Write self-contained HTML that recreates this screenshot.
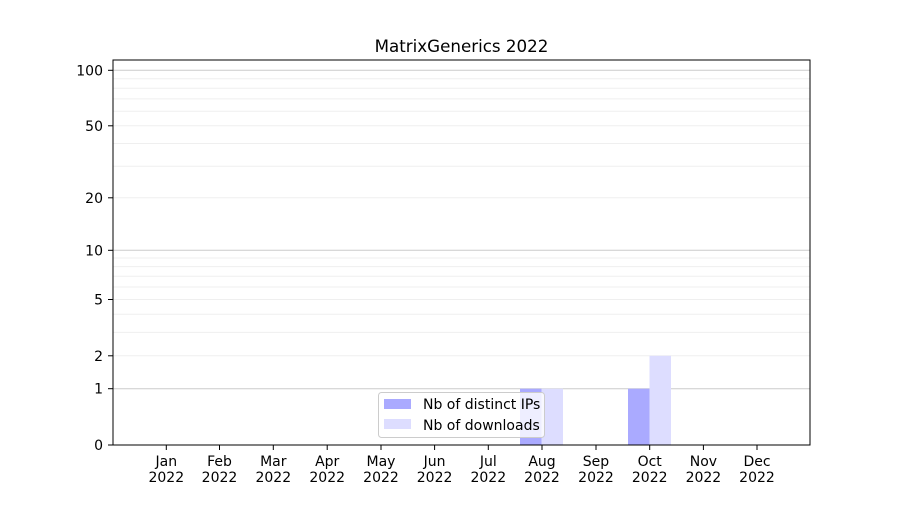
<!DOCTYPE html>
<html><head><meta charset="utf-8"><style>
body{margin:0;background:#fff}
text{font-family:"DejaVu Sans","Liberation Sans",sans-serif;font-size:14px;fill:#000}
</style></head><body>
<svg width="900" height="500" xmlns="http://www.w3.org/2000/svg">
<rect width="900" height="500" fill="#fff"/>
<g stroke="#efefef" stroke-width="1">
<line x1="113" x2="810" y1="355.8" y2="355.8"/>
<line x1="113" x2="810" y1="332.4" y2="332.4"/>
<line x1="113" x2="810" y1="314.3" y2="314.3"/>
<line x1="113" x2="810" y1="299.5" y2="299.5"/>
<line x1="113" x2="810" y1="287" y2="287"/>
<line x1="113" x2="810" y1="276.2" y2="276.2"/>
<line x1="113" x2="810" y1="266.6" y2="266.6"/>
<line x1="113" x2="810" y1="258" y2="258"/>
<line x1="113" x2="810" y1="197.8" y2="197.8"/>
<line x1="113" x2="810" y1="166.2" y2="166.2"/>
<line x1="113" x2="810" y1="143.5" y2="143.5"/>
<line x1="113" x2="810" y1="125.8" y2="125.8"/>
<line x1="113" x2="810" y1="111.2" y2="111.2"/>
<line x1="113" x2="810" y1="98.9" y2="98.9"/>
<line x1="113" x2="810" y1="88.2" y2="88.2"/>
<line x1="113" x2="810" y1="78.8" y2="78.8"/>
</g>
<g stroke="#cccccc" stroke-width="1">
<line x1="113" x2="810" y1="388.7" y2="388.7"/>
<line x1="113" x2="810" y1="250.3" y2="250.3"/>
<line x1="113" x2="810" y1="70.3" y2="70.3"/>
</g>
<rect x="520" y="388.7" width="21.5" height="56.3" fill="#aaaaff"/>
<rect x="541.5" y="388.7" width="21.5" height="56.3" fill="#ddddff"/>
<rect x="628" y="388.7" width="21.5" height="56.3" fill="#aaaaff"/>
<rect x="649.5" y="355.8" width="21.5" height="89.2" fill="#ddddff"/>
<rect x="113" y="60" width="697" height="385" fill="none" stroke="#000" stroke-width="1"/>
<g stroke="#000">
<line x1="108" x2="113" y1="445" y2="445"/>
<line x1="108" x2="113" y1="388.7" y2="388.7"/>
<line x1="108" x2="113" y1="355.8" y2="355.8"/>
<line x1="108" x2="113" y1="299.5" y2="299.5"/>
<line x1="108" x2="113" y1="250.3" y2="250.3"/>
<line x1="108" x2="113" y1="197.8" y2="197.8"/>
<line x1="108" x2="113" y1="125.8" y2="125.8"/>
<line x1="108" x2="113" y1="70.3" y2="70.3"/>
</g>
<g text-anchor="end">
<text x="103" y="450">0</text>
<text x="103" y="393.7">1</text>
<text x="103" y="360.8">2</text>
<text x="103" y="304.5">5</text>
<text x="103" y="255.3">10</text>
<text x="103" y="202.8">20</text>
<text x="103" y="130.8">50</text>
<text x="103" y="75.3">100</text>
</g>
<g stroke="#000">
<line x1="166.3" x2="166.3" y1="445" y2="450"/>
<line x1="219.5" x2="219.5" y1="445" y2="450"/>
<line x1="273.3" x2="273.3" y1="445" y2="450"/>
<line x1="327.2" x2="327.2" y1="445" y2="450"/>
<line x1="381" x2="381" y1="445" y2="450"/>
<line x1="434.6" x2="434.6" y1="445" y2="450"/>
<line x1="488.3" x2="488.3" y1="445" y2="450"/>
<line x1="542" x2="542" y1="445" y2="450"/>
<line x1="596" x2="596" y1="445" y2="450"/>
<line x1="649.7" x2="649.7" y1="445" y2="450"/>
<line x1="703.4" x2="703.4" y1="445" y2="450"/>
<line x1="757" x2="757" y1="445" y2="450"/>
</g>
<g text-anchor="middle">
<text x="166.3" y="466">Jan</text><text x="166.3" y="482">2022</text>
<text x="219.5" y="466">Feb</text><text x="219.5" y="482">2022</text>
<text x="273.3" y="466">Mar</text><text x="273.3" y="482">2022</text>
<text x="327.2" y="466">Apr</text><text x="327.2" y="482">2022</text>
<text x="381" y="466">May</text><text x="381" y="482">2022</text>
<text x="434.6" y="466">Jun</text><text x="434.6" y="482">2022</text>
<text x="488.3" y="466">Jul</text><text x="488.3" y="482">2022</text>
<text x="542" y="466">Aug</text><text x="542" y="482">2022</text>
<text x="596" y="466">Sep</text><text x="596" y="482">2022</text>
<text x="649.7" y="466">Oct</text><text x="649.7" y="482">2022</text>
<text x="703.4" y="466">Nov</text><text x="703.4" y="482">2022</text>
<text x="757" y="466">Dec</text><text x="757" y="482">2022</text>
<text x="461.5" y="52" style="font-size:16.7px">MatrixGenerics 2022</text>
</g>
<rect x="378.5" y="392.5" width="166" height="45" rx="3" fill="#fff" fill-opacity="0.8" stroke="#cccccc"/>
<rect x="384" y="399" width="27" height="10" fill="#aaaaff"/>
<rect x="384" y="419" width="27" height="10" fill="#ddddff"/>
<text x="423" y="409">Nb of distinct IPs</text>
<text x="423" y="430">Nb of downloads</text>
</svg>
</body></html>
